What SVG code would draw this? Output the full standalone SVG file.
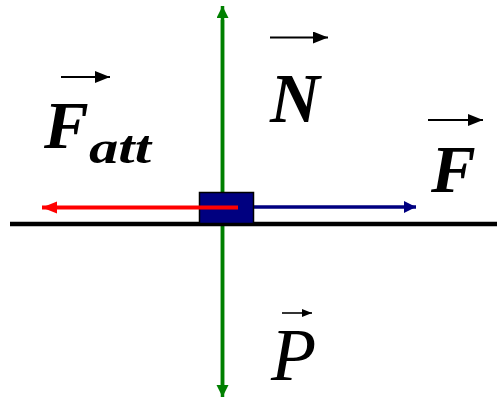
<svg xmlns="http://www.w3.org/2000/svg" width="497" height="399" viewBox="0 0 497 399">
<style>
.lbl{font-family:"Liberation Serif","Times New Roman",serif;fill:#000}
.bi{font-weight:bold;font-style:italic}
.it{font-style:italic}
</style>
<defs>
<marker id="ag" markerUnits="userSpaceOnUse" markerWidth="14" markerHeight="14" refX="12" refY="6" orient="auto"><path d="M0,0 L12,6 L0,12 Z" fill="#008000"/></marker>
<marker id="ar" markerUnits="userSpaceOnUse" markerWidth="16" markerHeight="14" refX="15" refY="6" orient="auto"><path d="M0,0 L15,6 L0,12 Z" fill="#ff0000"/></marker>
<marker id="ab" markerUnits="userSpaceOnUse" markerWidth="14" markerHeight="14" refX="12" refY="6" orient="auto"><path d="M0,0 L12,6 L0,12 Z" fill="#000080"/></marker>
<marker id="ak" markerUnits="userSpaceOnUse" markerWidth="16" markerHeight="14" refX="15" refY="6" orient="auto"><path d="M0,0 L15,6 L0,12 Z" fill="#000"/></marker>
<marker id="aks" markerUnits="userSpaceOnUse" markerWidth="12" markerHeight="10" refX="10" refY="4" orient="auto"><path d="M0,0 L10,4 L0,8 Z" fill="#000"/></marker>
</defs>
<g id="connectors">
<line x1="222.5" y1="385" x2="222.5" y2="6" stroke="#008000" stroke-width="3.5" marker-end="url(#ag)"/>
<line x1="222.5" y1="20" x2="222.5" y2="397" stroke="#008000" stroke-width="3.5" marker-end="url(#ag)"/>
<line x1="10" y1="224" x2="497" y2="224" stroke="#000" stroke-width="4.5"/>
<line x1="250" y1="207" x2="416" y2="207" stroke="#000080" stroke-width="3.5" marker-end="url(#ab)"/>
</g>
<g id="block">
<rect x="199.5" y="192.5" width="54" height="31" fill="#000080" stroke="#000" stroke-width="1.5"/>
</g>
<g id="friction">
<line x1="238" y1="207.5" x2="42" y2="207.5" stroke="#ff0000" stroke-width="4" marker-end="url(#ar)"/>
</g>
<g id="label-Fatt">
<line x1="61" y1="77" x2="110" y2="77" stroke="#000" stroke-width="2.2" marker-end="url(#ak)"/>
<text class="lbl bi" x="44" y="148" font-size="67">F</text>
<text class="lbl bi" x="89" y="163" font-size="46" textLength="62" lengthAdjust="spacingAndGlyphs">att</text>
</g>
<g id="label-N">
<line x1="270" y1="37.5" x2="328" y2="37.5" stroke="#000" stroke-width="2.2" marker-end="url(#ak)"/>
<text class="lbl bi" x="270" y="122" font-size="69">N</text>
</g>
<g id="label-F">
<line x1="428" y1="120" x2="483" y2="120" stroke="#000" stroke-width="2.2" marker-end="url(#ak)"/>
<text class="lbl bi" x="431" y="192" font-size="67">F</text>
</g>
<g id="label-P">
<line x1="282" y1="313" x2="312" y2="313" stroke="#000" stroke-width="1.6" marker-end="url(#aks)"/>
<text class="lbl it" x="271" y="380" font-size="74">P</text>
</g>
</svg>
